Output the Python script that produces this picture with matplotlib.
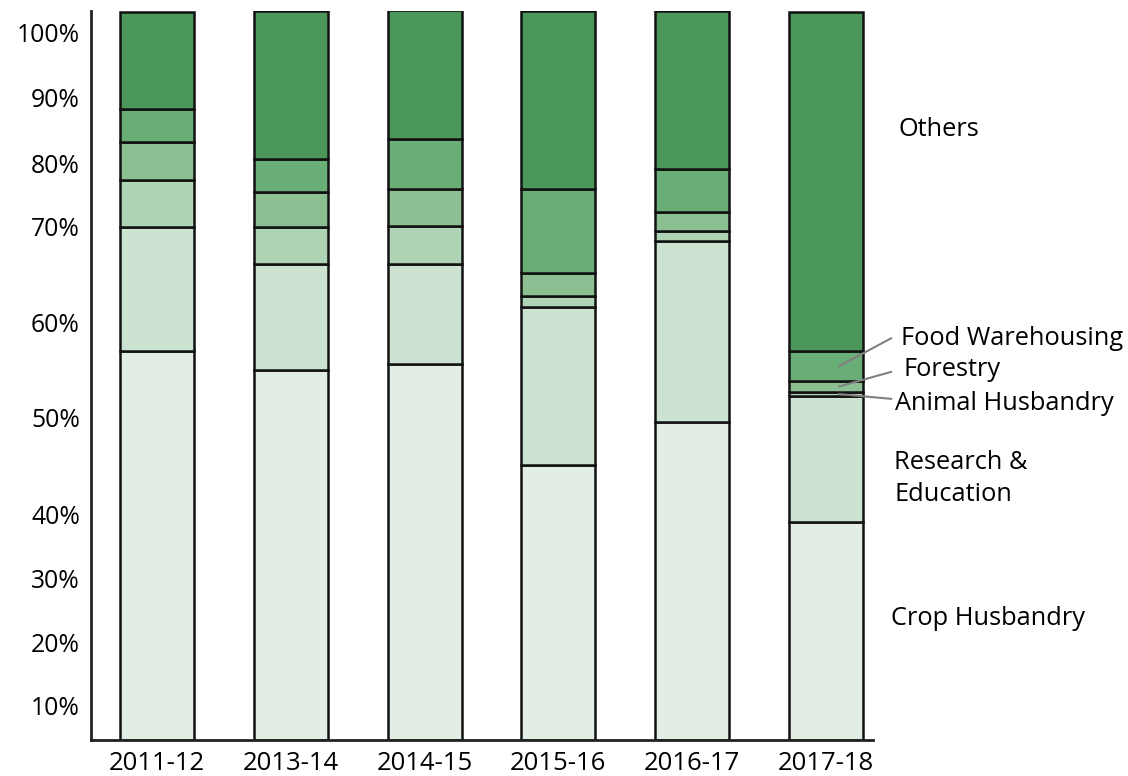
import numpy as np
import matplotlib.pyplot as plt

plt.rcParams['font.family'] = ['Open Sans', 'DejaVu Sans']

# shares of each segment (% of bar height)
years = ['2011-12', '2013-14', '2014-15', '2015-16', '2016-17', '2017-18']
crop = [53.4, 50.8, 51.6, 37.7, 43.6, 29.9]
research = [17.0, 14.5, 13.7, 21.7, 24.8, 17.3]
animal = [6.4, 5.1, 5.2, 1.5, 1.4, 0.5]
forestry = [5.3, 4.8, 5.1, 3.2, 2.6, 1.6]
food = [4.4, 4.5, 6.9, 11.5, 5.9, 4.0]
others = [13.4, 20.3, 17.6, 24.4, 21.7, 46.6]

# the y labels of the original sit at uneven heights
tick_labels = ['10%', '20%', '30%', '40%', '50%', '60%', '70%', '80%', '90%', '100%']
tick_pos = [4.8, 13.4, 22.2, 31.0, 44.3, 57.3, 70.4, 79.1, 88.1, 97.0]

series = [crop, research, animal, forestry, food, others]
colors = ['#e2eee3', '#cde3d2', '#afd4b5', '#8cbf92', '#69ad77', '#4a9759']

fig = plt.figure(figsize=(11.28, 7.76), dpi=100)
ax = fig.add_axes([0.0807, 0.0464, 0.693, 0.9394])

x = np.arange(len(years))
bottom = np.zeros(len(years))
for vals, c in zip(series, colors):
    ax.bar(x, vals, 0.554, bottom=bottom, color=c, edgecolor='#111111', linewidth=1.8)
    bottom += np.array(vals)

ax.set_xlim(-0.494, 5.35)
ax.set_ylim(0, 100)
ax.set_xticks(x)
ax.set_xticklabels(years, fontsize=18.5)
ax.set_yticks(tick_pos)
ax.set_yticklabels(tick_labels, fontsize=17.8)
ax.tick_params(length=0)
ax.tick_params(axis='x', pad=8)
ax.tick_params(axis='y', pad=8)
for s in ['top', 'right']:
    ax.spines[s].set_visible(False)
for s in ['left', 'bottom']:
    ax.spines[s].set_linewidth(2)
    ax.spines[s].set_color('#222222')

# labels on the right, with leader lines for the thin segments of the last bar
last = len(years) - 1
base = crop[last] + research[last]
mid_animal = base + animal[last] / 2
mid_forestry = base + animal[last] + forestry[last] / 2
mid_food = base + animal[last] + forestry[last] + food[last] / 2

kw = dict(fontsize=18.3, ha='left', va='center', clip_on=False)
ax.text(5.546, 83.8, 'Others', **kw)
ax.text(5.56, 55.1, 'Food Warehousing', **kw)
ax.text(5.58, 50.8, 'Forestry', **kw)
ax.text(5.52, 46.2, 'Animal Husbandry', **kw)
ax.text(5.51, 35.9, 'Research &\nEducation', linespacing=1.35, **kw)
ax.text(5.49, 16.7, 'Crop Husbandry', **kw)

for y0, y1 in [(mid_food, 55.1), (mid_forestry, 50.5), (mid_animal, 46.8)]:
    ax.plot([5.1, 5.487], [y0, y1], color='#808080', lw=1.5, clip_on=False)

fig.savefig('out.png', dpi=100)
